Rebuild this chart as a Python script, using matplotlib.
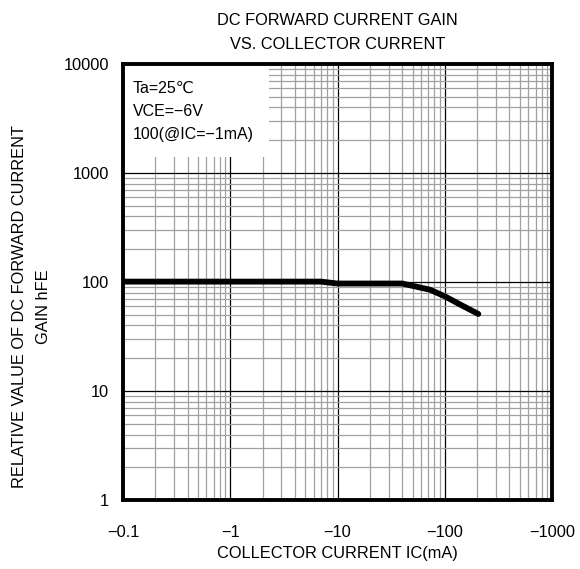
import matplotlib
matplotlib.use('Agg')
import matplotlib.pyplot as plt
from matplotlib.ticker import LogLocator, FixedLocator, NullFormatter
import numpy as np

plt.rcParams['font.family'] = ['Liberation Sans', 'DejaVu Sans']

# collector current magnitude (mA) vs hFE
ic_ma = [0.1, 1, 7, 10, 40, 73, 100, 140, 205]
hfe   = [101, 101, 101, 97, 97, 85, 74, 62, 51]

x_ticks = [0.1, 1, 10, 100, 1000]
x_labels = ['\u22120.1', '\u22121', '\u221210', '\u2212100', '\u22121000']
y_ticks = [1, 10, 100, 1000, 10000]
y_labels = ['1', '10', '100', '1000', '10000']

FS = 11.8

fig = plt.figure(figsize=(5.8, 5.69), dpi=100, facecolor='white')
ax = fig.add_axes([0.212, 0.121, 0.740, 0.7665])

ax.set_xscale('log')
ax.set_yscale('log')
ax.set_xlim(0.1, 1000)
ax.set_ylim(1, 10000)

ax.xaxis.set_major_locator(FixedLocator(x_ticks))
ax.yaxis.set_major_locator(FixedLocator(y_ticks))
ax.xaxis.set_minor_locator(LogLocator(base=10, subs=np.arange(2, 10)))
ax.yaxis.set_minor_locator(LogLocator(base=10, subs=np.arange(2, 10)))
ax.xaxis.set_minor_formatter(NullFormatter())
ax.yaxis.set_minor_formatter(NullFormatter())
ax.set_xticklabels(x_labels)
ax.set_yticklabels(y_labels)

ax.grid(True, which='minor', color='#a0a0a0', lw=0.9)
ax.grid(True, which='major', color='black', lw=0.9)
ax.tick_params(axis='x', which='both', length=0, labelsize=FS, pad=18)
ax.tick_params(axis='y', which='both', length=0, labelsize=FS, pad=10)
for sp in ax.spines.values():
    sp.set_linewidth(2.8)
    sp.set_zorder(6)

ax.plot(ic_ma, hfe, color='black', lw=4.2, solid_capstyle='round', zorder=4)

# condition box masks the grid in the upper left (spines stay on top)
ax.text(0.023, 0.962,
        'Ta=25\u2103\nVCE=\u22126V\n100(@IC=\u22121mA)',
        transform=ax.transAxes, ha='left', va='top', fontsize=FS - 0.3,
        linespacing=1.68, zorder=5,
        bbox=dict(boxstyle='square,pad=0.95', fc='white', ec='none'))

ax.set_xlabel('COLLECTOR CURRENT IC(mA)', fontsize=FS, labelpad=4)
ax.set_ylabel('RELATIVE VALUE OF DC FORWARD CURRENT\nGAIN hFE', fontsize=FS,
              linespacing=1.75)
ax.yaxis.set_label_coords(-0.168, 0.443)
ax.set_title('DC FORWARD CURRENT GAIN\nVS. COLLECTOR CURRENT', fontsize=FS,
             linespacing=1.7, pad=11)

plt.savefig('out.png', dpi=100, facecolor='white')
plt.close()
